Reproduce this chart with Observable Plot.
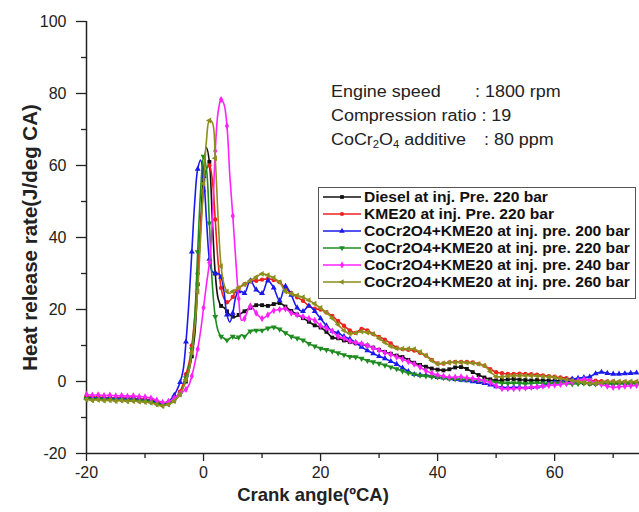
<!DOCTYPE html>
<html>
<head>
<meta charset="utf-8">
<script src="https://cdn.jsdelivr.net/npm/d3@7"></script>
<script src="https://cdn.jsdelivr.net/npm/@observablehq/plot@0.6"></script>
<style>
  body { margin: 0; background: #fff; }
  #wrap { position: relative; width: 639px; height: 512px; overflow: hidden; font-family: "Liberation Sans", Arial, sans-serif; background: #fff; }
  #wrap > svg { position: absolute; left: 0; top: 0; }
  .note { position: absolute; font-size: 16px; line-height: 18px; color: #222; transform: scaleX(1.12); transform-origin: left center; white-space: nowrap; }
  .note sub { font-size: 10px; vertical-align: -3px; line-height: 0; }
  #legend { position: absolute; left: 318px; top: 187px; width: 316px; height: 110px; border: 1px solid #555; background: #fff; }
  .lrow { position: absolute; left: 0; height: 16px; width: 316px; }
  .lrow svg { position: absolute; left: 3px; top: 2px; }
  .lrow span { position: absolute; left: 45px; top: 0; font-size: 14px; line-height: 16px; font-weight: bold; color: #111; transform: scaleX(1.115); transform-origin: left center; white-space: nowrap; }
</style>
</head>
<body>
<div id="wrap"></div>
<script>
// ---------- data ----------
const angles = [
  -20,-19,-18,-17,-16,-15,-14,-13,-12,-11,-10,-9,-8,-7,-6,
  -5.5,-5,-4.5,-4,-3.5,-3,-2.5,-2,-1.5,-1,-0.5,0,0.5,1,1.5,2,2.5,3,3.5,4,4.5,5,5.5,6,6.5,7,
  8,9,10,11,12,13,14,15,16,17,
  18,19,20,21,22,23,24,25,26,27,
  28,29,30,31,32,33,34,35,36,37,
  38,39,40,41,42,43,44,45,46,47,
  48,49,50,51,52,53,54,55,56,57,
  58,59,60,61,62,63,64,65,66,67,
  68,69,70,71,72,73,74
];

const diesel220 = [
  -4.3,-4.5,-4.4,-4.6,-4.5,-4.7,-4.6,-4.8,-4.7,-4.9,-5.0,-5.2,-5.8,-6.3,-6.0,
  -5.6,-5.0,-4.2,-3,-1.5,0,3,7,13,27,43,58,65,61,45,30,23,21,20.5,19.5,18.5,18,18,18.5,19,19.5,
  20.5,21.2,21.2,21,21.5,21.8,20.8,19.6,18.6,17.6,
  16.6,15.6,15,13.8,12.2,12,11.4,11,10.6,10.3,
  10,9.4,8.8,8.2,7.7,7.2,6.8,6,5.2,4.6,
  4.1,3.6,3.3,3.1,3.4,3.9,4,3.5,2.6,1.8,
  1.1,0.6,0.3,0.4,0.6,0.7,0.5,0.4,0.3,0.4,
  0.3,0.3,0.2,0.3,0.2,0,-0.2,-0.4,-0.6,-0.6,
  -0.5,-0.6,-0.6,-0.5,-0.6,-0.6,-0.5
];

const kme20_220 = [
  -4.2,-4.4,-4.3,-4.5,-4.4,-4.6,-4.5,-4.7,-4.6,-4.8,-4.9,-5.1,-5.6,-6.0,-5.8,
  -5.4,-4.8,-4,-2.8,-0.8,2,5,10,18,30,43,53,59,60,56,45,33,26,23,22,22.5,23.5,25,26,26.5,27,
  27.8,28,28.3,28.5,28.2,27.6,25.8,24.6,23.4,22.4,
  21,20.2,20,19.2,18.2,16.8,15.5,14.2,13.5,14.6,
  14.2,13.2,12.4,11.6,10.6,9.4,9,8.8,8.6,8,
  7.2,6,5,5,5.3,5.4,5.4,5.4,5.3,4.9,
  4.4,3.4,2.6,2.3,2.1,2.1,2.2,2.1,2,1.9,
  1.7,1.5,1.3,1.1,0.9,0.7,0.5,0.4,0.3,0.2,
  0.1,0,0,-0.1,-0.1,-0.2,-0.2
];

const cocr200 = [
  -4.4,-4.6,-4.5,-4.7,-4.6,-4.8,-4.7,-4.9,-4.8,-5.0,-5.1,-5.3,-5.8,-6.2,-5.6,
  -4.8,-3.8,-2.2,-0.2,3,11,22,36,50,59,61.5,57,45,34,30.5,30,30,29,25,18.5,16.5,19,23.5,25,25,24.5,
  28,25.5,24.5,28,26,22.5,26.5,24,20.5,19.5,
  21,19.5,17.5,15.5,14,13.5,12.5,11.8,10.8,9.6,
  8.6,7.8,7,6.4,5.6,4.8,3.8,2.8,2,1.8,
  1.7,1.5,1.2,1,0.8,0.6,0.4,0.3,0,-0.2,
  -0.5,-0.9,-1.4,-1.6,-1.7,-1.6,-1.6,-1.7,-1.6,-1.5,
  -1.2,-0.7,-0.3,0,0.4,0.7,0.9,1.1,1.3,2.2,
  2.6,2.3,2.1,2.1,2.2,2.3,2.4
];

const cocr220 = [
  -4.8,-5.0,-4.9,-5.1,-5.0,-5.2,-5.1,-5.3,-5.2,-5.4,-5.5,-5.7,-6.2,-6.6,-6.2,
  -5.8,-5.2,-4.5,-3.5,-1.8,1,4,9,18,36,53,62.5,59,44,27,18,14,12.5,12,11.5,12,12.5,12,12.3,13,12.5,
  14,14.2,14.2,14.8,15.1,14.5,13.5,12.5,12,11.5,
  10.5,9.8,9.2,8.8,8.4,7.9,7.4,6.9,6.8,6.4,
  5.8,5.4,5,4.5,4,3.5,2.9,2.4,2,1.7,
  1.5,1.3,1.2,1,0.8,0.7,0.6,0.5,0.5,0.3,
  0.1,0,-0.3,-0.4,-0.5,-0.4,-0.5,-0.6,-0.5,-0.4,
  -0.5,-0.6,-0.5,-0.4,-0.6,-0.7,-0.6,-0.5,-0.6,-0.7,
  -0.6,-0.5,-0.6,-0.7,-0.6,-0.5,-0.6
];

const cocr240 = [
  -3.6,-3.8,-3.7,-3.9,-3.8,-4.0,-3.9,-4.1,-4.0,-4.2,-4.3,-4.6,-5.2,-5.8,-5.6,
  -5.2,-4.6,-4.0,-3.4,-2.8,-2.2,-1,1.5,5,9,14,20.5,27,33,44,64,75,78.3,77,71,57,46,34,23,17,17.5,
  21,19,17.5,18.5,19.7,20,20.2,19,18.5,18,
  17.5,17,15.5,14.8,14,12.5,12,11.2,10.8,10.5,
  10,9.3,8.7,8,7.5,6.8,6.2,5.5,4.8,4,
  3,2.3,1.8,1.5,1.2,1.2,1.3,1,0.8,0.6,
  0.2,-0.3,-1.2,-2,-2,-2,-1.9,-1.8,-1.6,-1.5,
  -1.3,-1.1,-1,-0.8,-0.5,-0.2,0.3,0.6,0.2,-0.3,
  -0.8,-1.3,-1.6,-1.5,-1.3,-1.2,-1.1
];

const cocr260 = [
  -5.0,-5.2,-5.1,-5.3,-5.2,-5.4,-5.3,-5.5,-5.4,-5.6,-5.7,-5.9,-6.4,-6.8,-6.4,
  -6,-5.4,-4.6,-3.6,-1.8,0.5,3,8,15,25,40,55,67,72.5,72,62,45,32,27,25,24.5,25,25.5,26,26.5,27,
  28,29,29.9,29.5,28.8,27.6,25,24.4,23.9,23.4,
  22.6,21.6,20.4,19.2,17.6,15.8,14.2,13.3,13.5,13.9,
  13.6,13.2,12,10.8,9.8,9.2,9.1,9.1,9,8.2,
  7.2,5.8,4.9,5.1,5.3,5.3,5.3,5.2,5.1,4.9,
  4.4,2.8,1.4,1.3,1.5,1.6,1.6,1.6,1.6,1.5,
  1.4,1.3,1.1,0.8,0.5,0.3,0,-0.3,-0.5,-0.5,
  -0.3,-0.1,0,0,0,0,0
];

const seriesNames = [
  "Diesel at inj. Pre. 220 bar",
  "KME20 at inj. Pre. 220 bar",
  "CoCr2O4+KME20 at inj. pre. 200 bar",
  "CoCr2O4+KME20 at inj. pre. 220 bar",
  "CoCr2O4+KME20 at inj. pre. 240 bar",
  "CoCr2O4+KME20 at inj. pre. 260 bar"
];
const seriesValues = [diesel220, kme20_220, cocr200, cocr220, cocr240, cocr260];
const seriesColors = ["#111111", "#ee2020", "#1a1aee", "#1e8c1e", "#ff22ff", "#8e8e1e"];
const seriesSymbols = ["square", "circle", "triangle", "triangle", "diamond", "triangle"];
const seriesRotate = [0, 0, 0, 180, 0, -90];

const xMajorTicks = [-20, 0, 20, 40, 60];
const xMinorTicks = [-10, 10, 30, 50, 70];
const yMajorTicks = [-20, 0, 20, 40, 60, 80, 100];
const yMinorTicks = [-10, 10, 30, 50, 70, 90];

const xTitle = "Crank angle(ºCA)";
const yTitle = "Heat release rate(J/deg CA)";

// ---------- build table ----------
const rows = [];
seriesValues.forEach((vals, i) => {
  if (vals.length !== angles.length) console.error("length mismatch", i, vals.length, angles.length);
  angles.forEach((a, j) => { if (vals[j] !== undefined) rows.push({angle: a, hrr: vals[j], s: i}); });
});

const seriesMarks = [];
seriesValues.forEach((_, i) => {
  const d = rows.filter(r => r.s === i);
  seriesMarks.push(Plot.line(d, {x: "angle", y: "hrr", stroke: seriesColors[i], strokeWidth: 1.6, curve: "catmull-rom"}));
  seriesMarks.push(Plot.dot(d.filter(r => Number.isInteger(r.angle)), {x: "angle", y: "hrr", fill: seriesColors[i], stroke: "none", symbol: seriesSymbols[i], rotate: seriesRotate[i], r: 2.2}));
});

const chart = Plot.plot({
  width: 639,
  height: 512,
  marginLeft: 86,
  marginRight: 0,
  marginTop: 21,
  marginBottom: 59,
  style: {fontFamily: "'Liberation Sans', Arial, sans-serif", fontSize: "15px", color: "#222", background: "transparent", overflow: "visible"},
  x: {domain: [-20, 74.5]},
  y: {domain: [-20, 100]},
  marks: [
    Plot.axisX(xMajorTicks, {tickSize: 8, tickPadding: 5, tickFormat: d => String(d), fontSize: 16, label: null, strokeWidth: 1.3}),
    Plot.axisX(xMinorTicks, {tickSize: 5, tickFormat: () => "", label: null, strokeWidth: 1.3}),
    Plot.axisY(yMajorTicks, {tickSize: 10, tickPadding: 10, tickFormat: d => String(d), fontSize: 16, label: null, strokeWidth: 1.3}),
    Plot.axisY(yMinorTicks, {tickSize: 5, tickFormat: () => "", label: null, strokeWidth: 1.3}),
    Plot.ruleX([-20], {stroke: "#222", strokeWidth: 1.5}),
    Plot.ruleY([-20], {stroke: "#222", strokeWidth: 1.5}),
    ...seriesMarks,
    Plot.text([xTitle], {text: d => d, frameAnchor: "bottom", textAnchor: "middle", dx: -50, dy: 47, fontSize: 18.5, fontWeight: "bold", fill: "#222"}),
    Plot.text([yTitle], {text: d => d, frameAnchor: "left", textAnchor: "middle", lineAnchor: "middle", dx: -56, rotate: -90, fontSize: 20.5, fontWeight: "bold", fill: "#222"})
  ]
});

const wrap = document.getElementById("wrap");
wrap.appendChild(chart);

// ---------- annotation text ----------
function note(html, left, top) {
  const d = document.createElement("div");
  d.className = "note";
  d.style.left = left + "px";
  d.style.top = top + "px";
  d.innerHTML = html;
  wrap.appendChild(d);
}
note("Engine speed", 331, 83);
note(": 1800 rpm", 475, 83);
note("Compression ratio : 19", 331, 107);
note("CoCr<sub>2</sub>O<sub>4</sub> additive", 331, 131);
note(": 80 ppm", 484, 131);

// ---------- legend ----------
const legend = document.createElement("div");
legend.id = "legend";
wrap.appendChild(legend);
const symMap = {square: d3.symbolSquare, circle: d3.symbolCircle, triangle: d3.symbolTriangle, diamond: d3.symbolDiamond};
seriesNames.forEach((name, i) => {
  const row = document.createElement("div");
  row.className = "lrow";
  row.style.top = (1 + i * 16.9) + "px";
  legend.appendChild(row);
  const svg = d3.select(row).append("svg").attr("width", 40).attr("height", 12);
  svg.append("line").attr("x1", 1).attr("x2", 39).attr("y1", 6).attr("y2", 6)
    .attr("stroke", seriesColors[i]).attr("stroke-width", 1.6);
  svg.append("path").attr("d", d3.symbol(symMap[seriesSymbols[i]], 14)())
    .attr("transform", `translate(20,6) rotate(${seriesRotate[i]})`)
    .attr("fill", seriesColors[i]);
  const sp = document.createElement("span");
  sp.textContent = name;
  row.appendChild(sp);
});
</script>
</body>
</html>
